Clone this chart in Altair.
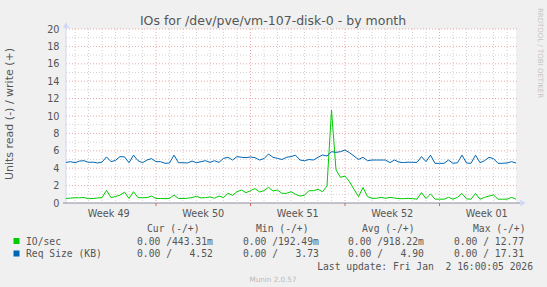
import altair as alt
import pandas as pd

# ---------------- data ----------------
title_text = "IOs for /dev/pve/vm-107-disk-0 - by month"
y_title = "Units read (-) / write (+)"

# time axis: days relative to Sun 7 Dec 00:00, samples every 8 h from Nov 30 08:00 to Jan 2 16:00
t_start = -20 / 3
t_step = 1 / 3
t_end = 80 / 3

io_write = [
    0.52, 0.56, 0.60, 0.60, 0.62, 0.50, 0.52, 0.58, 0.62, 1.45,
    0.62, 0.75, 0.90, 1.25, 0.52, 1.30, 0.62, 0.60, 0.62, 0.80,
    0.52, 0.52, 0.50, 0.52, 0.92, 0.52,
    0.52, 0.55, 0.62, 0.77, 0.58, 0.62, 0.70, 0.55, 0.80, 0.62,
    1.11, 0.88, 1.30, 1.49, 1.19, 1.42, 1.65, 1.27, 1.42, 1.80,
    1.38, 1.49, 1.11, 1.11, 1.30, 1.00,
    0.80, 0.90, 1.41, 1.41, 1.57, 1.30, 1.95, 10.70, 3.80, 2.95,
    3.10, 2.45, 1.57, 0.73, 1.78, 0.73, 0.54, 0.54, 0.65, 0.54,
    0.65, 0.57, 0.50, 0.50, 0.54, 0.50,
    0.44, 1.20, 0.50, 1.05, 0.44, 0.44, 0.44, 0.65, 0.44, 0.65,
    1.10, 0.47, 0.44, 1.10, 0.44, 0.65, 0.80, 0.92, 0.44, 0.44,
    0.44, 0.65, 0.44,
]
req_write = [
    4.67, 4.75, 4.63, 4.82, 4.86, 4.67, 4.70, 4.60, 4.70, 5.30,
    4.75, 4.90, 5.33, 5.30, 4.63, 5.50, 4.86, 4.63, 4.94, 5.10,
    4.75, 4.75, 4.56, 4.60, 5.50, 4.63,
    4.63, 4.60, 4.82, 4.63, 4.75, 4.86, 4.67, 4.86, 4.67, 5.13,
    5.25, 4.94, 5.33, 5.25, 5.21, 5.29, 5.21, 4.94, 5.10, 5.63,
    5.25, 5.13, 5.00, 5.25, 5.33, 5.50,
    4.94, 4.86, 5.00, 4.94, 5.25, 5.52, 5.40, 5.90, 5.82, 5.90,
    6.09, 5.78, 5.40, 5.00, 5.25, 4.86, 4.94, 4.94, 4.94, 4.94,
    4.64, 4.94, 4.70, 4.64, 4.70, 4.67,
    4.67, 5.33, 4.75, 5.50, 4.56, 4.56, 4.56, 4.94, 4.56, 4.63,
    5.50, 4.60, 4.56, 5.50, 4.63, 4.86, 5.25, 5.10, 4.56, 4.56,
    4.60, 4.75, 4.60,
]

week_labels = ["Week 49", "Week 50", "Week 51", "Week 52", "Week 01"]
week_mid = [-3.5, 3.5, 10.5, 17.5, 24.5]
week_starts = [0, 7, 14, 21]

series_names = ["IO/sec", "Req Size (KB)"]
series_colors = ["#00CC00", "#0066B3"]
legend_headers = ["Cur (-/+)", "Min (-/+)", "Avg (-/+)", "Max (-/+)"]
cur_vals = ["0.00 /443.31m", "0.00 /   4.52"]
min_vals = ["0.00 /192.49m", "0.00 /   3.73"]
avg_vals = ["0.00 /918.22m", "0.00 /   4.90"]
max_vals = ["0.00 / 12.77", "0.00 / 17.31"]
last_update = "Last update: Fri Jan  2 16:00:05 2026"
munin_version = "Munin 2.0.57"
watermark = "RRDTOOL / TOBI OETIKER"
y_ticks = list(range(0, 21, 2))

# ---------------- build ----------------
W, H = 450, 174
NB = "\u00a0"


def nb(s):
    return s.replace(" ", NB)


rows = []
for name, vals in zip(series_names, [io_write, req_write]):
    for i, v in enumerate(vals):
        rows.append({"t": t_start + i * t_step, "v": v, "series": name})
df = pd.DataFrame(rows)

FONT = "DejaVu Sans"
MONO = "DejaVu Sans Mono"
TXT = "#555555"
MINOR = "#d2d2d2"
MAJOR = "#eaa8a8"
AXISC = "#CFD6F8"

xscale = alt.Scale(domain=[t_start, t_end], nice=False, zero=False)
yscale = alt.Scale(domain=[0, 20], nice=False, zero=False)
yaxis = alt.Axis(
    values=y_ticks,
    grid=False,
    ticks=False,
    domain=False,
    title=None,
    labelFont=FONT,
    labelFontSize=9.7,
    labelColor=TXT,
    labelPadding=7,
)

day_lines = [d for d in range(-6, 27) if d not in week_starts]
vminor = alt.Chart(pd.DataFrame({"d": day_lines})).mark_rule(
    color=MINOR, strokeDash=[1, 2], strokeWidth=1
).encode(x=alt.X("d:Q", scale=xscale, axis=None), y=alt.value(0), y2=alt.value(H))
vmajor = alt.Chart(pd.DataFrame({"d": week_starts})).mark_rule(
    color=MAJOR, strokeDash=[1, 2], strokeWidth=1
).encode(x=alt.X("d:Q", scale=xscale, axis=None), y=alt.value(0), y2=alt.value(H))
vticks = alt.Chart(pd.DataFrame({"d": week_starts})).mark_rule(
    color="#e06060", strokeWidth=1
).encode(x=alt.X("d:Q", scale=xscale, axis=None), y=alt.value(H), y2=alt.value(H + 3))

hminor = alt.Chart(pd.DataFrame({"v": list(range(1, 20, 2))})).mark_rule(
    color=MINOR, strokeDash=[1, 2], strokeWidth=1
).encode(y=alt.Y("v:Q", scale=yscale, axis=yaxis), x=alt.value(0), x2=alt.value(W + 2))
hmajor = alt.Chart(pd.DataFrame({"v": list(range(2, 21, 2))})).mark_rule(
    color=MAJOR, strokeDash=[1, 2], strokeWidth=1
).encode(y=alt.Y("v:Q", scale=yscale, axis=yaxis), x=alt.value(0), x2=alt.value(W + 2))

lines = alt.Chart(df).mark_line(strokeWidth=1.0, clip=True).encode(
    x=alt.X("t:Q", scale=xscale, axis=None),
    y=alt.Y("v:Q", scale=yscale, axis=yaxis),
    color=alt.Color("series:N", scale=alt.Scale(domain=series_names, range=series_colors), legend=None),
)

# axis lines and arrows
axis_df = pd.DataFrame({"a": [0]})
yaxis_line = alt.Chart(axis_df).mark_rule(color=AXISC, strokeWidth=1).encode(
    x=alt.value(0), y=alt.value(-3), y2=alt.value(H)
)
xaxis_line = alt.Chart(axis_df).mark_rule(color="#8c8c9c", strokeWidth=1).encode(
    x=alt.value(-3), x2=alt.value(W + 4), y=alt.value(H)
)
xarrow = alt.Chart(axis_df).mark_point(shape="triangle-right", filled=True, color=AXISC, size=40, opacity=1).encode(
    x=alt.value(W + 7), y=alt.value(H)
)
yarrow = alt.Chart(axis_df).mark_point(shape="triangle-up", filled=True, color=AXISC, size=40, opacity=1).encode(
    x=alt.value(0), y=alt.value(-4)
)

weeks = alt.Chart(pd.DataFrame({"t": week_mid, "label": week_labels})).mark_text(
    font=FONT, fontSize=9.7, color=TXT, align="center", baseline="alphabetic"
).encode(x=alt.X("t:Q", scale=xscale, axis=None), y=alt.value(187.5), text="label:N")


def static_text(text, x, y, **kw):
    return alt.Chart(pd.DataFrame({"s": [text]})).mark_text(**kw).encode(
        x=alt.value(x), y=alt.value(y), text="s:N"
    )


layers = [vminor, hminor, vmajor, hmajor, vticks, yaxis_line, xaxis_line, xarrow, yarrow, lines, weeks]

layers.append(static_text(title_text, 207, -4.5, font=FONT, fontSize=12.5, color=TXT, align="center", baseline="alphabetic"))
layers.append(static_text(y_title, -56, 85, font=FONT, fontSize=11, color=TXT, align="center", baseline="middle", angle=270))
layers.append(static_text(watermark, 474, 24, font=FONT, fontSize=7, color="#c4c4c4", align="center", baseline="middle", angle=90))

head_x = [81, 190, 296, 407]
val_x = [71, 177, 282, 388]
for hx, h in zip(head_x, legend_headers):
    layers.append(static_text(nb(h), hx, 202.5, font=MONO, fontSize=9.7, color=TXT, align="left", baseline="alphabetic"))

row_y = [215.5, 228]
for k, name in enumerate(series_names):
    y = row_y[k]
    sq = alt.Chart(axis_df).mark_point(shape="square", filled=True, color=series_colors[k], size=36, opacity=1).encode(
        x=alt.value(-49.5), y=alt.value(y - 3.5)
    )
    layers.append(sq)
    layers.append(static_text(nb(name), -40, y, font=MONO, fontSize=9.7, color=TXT, align="left", baseline="alphabetic"))
    for vx, col in zip(val_x, [cur_vals, min_vals, avg_vals, max_vals]):
        layers.append(static_text(nb(col[k]), vx, y, font=MONO, fontSize=9.7, color=TXT, align="left", baseline="alphabetic"))

layers.append(static_text(nb(last_update), 467, 240.5, font=MONO, fontSize=9.7, color=TXT, align="right", baseline="alphabetic"))
layers.append(static_text(munin_version, 207, 253, font=FONT, fontSize=7.2, color="#b8b8b8", align="center", baseline="alphabetic"))

chart = alt.layer(*layers).properties(
    width=W,
    height=H,
    autosize=alt.AutoSizeParams(type="none"),
    padding={"left": 66, "top": 29, "right": 31, "bottom": 84},
    background="#F0F0F0",
).configure_view(stroke=None, fill="#FFFFFF")

chart.save("out.html", embed_options={"renderer": "svg", "actions": False})
